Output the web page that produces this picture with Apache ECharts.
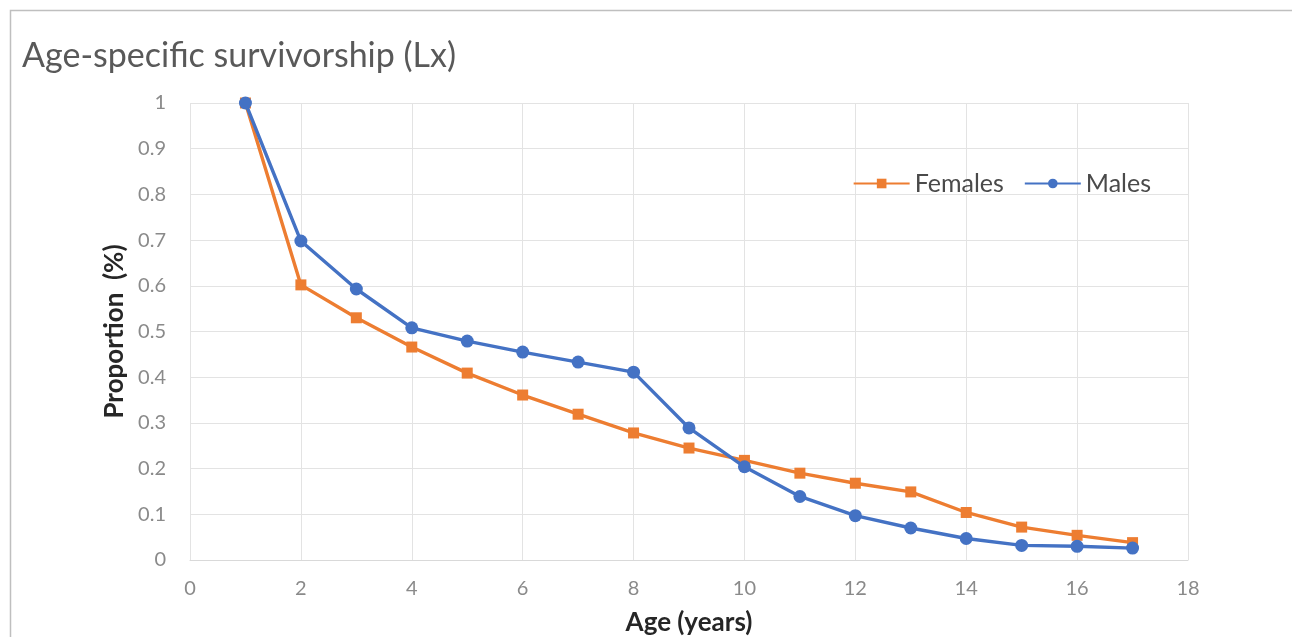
<!DOCTYPE html>
<html>
<head>
<meta charset="utf-8">
<script src="https://cdn.jsdelivr.net/npm/echarts@6/dist/echarts.min.js"></script>
<style>
html,body{margin:0;padding:0;background:#fff;}
#chart{width:1292px;height:637px;}
</style>
</head>
<body>
<div id="chart"></div>
<script>
const ages = [1,2,3,4,5,6,7,8,9,10,11,12,13,14,15,16,17];
const females = [1.0,0.602,0.53,0.466,0.409,0.361,0.319,0.278,0.245,0.218,0.19,0.168,0.149,0.104,0.072,0.054,0.038];
const males = [1.0,0.698,0.593,0.508,0.479,0.455,0.433,0.411,0.289,0.204,0.139,0.097,0.07,0.047,0.032,0.03,0.026];
const seriesNames = ['Females','Males'];

const chart = echarts.init(document.getElementById('chart'));
const font = 'Lato, "Open Sans", sans-serif';
chart.setOption({
  animation:false,
  backgroundColor:'#fff',
  title:{
    text:'Age-specific survivorship (Lx)',
    left:17, top:34,
    textStyle:{fontFamily:font,fontSize:34,fontWeight:'normal',color:'#595959'}
  },
  graphic:[{
    type:'rect', shape:{x:10.5,y:10.5,width:1300,height:700},
    style:{fill:'none',stroke:'#bfbfbf',lineWidth:1.5}, silent:true
  }],
  legend:{
    right:136, top:166,
    itemWidth:56, itemHeight:12, itemGap:20,
    textStyle:{fontFamily:font,fontSize:25,color:'#4a4a4a'},
    data:seriesNames
  },
  grid:{left:190,right:104,top:103,bottom:77,containLabel:false,outerBoundsMode:'none'},
  xAxis:{
    type:'value', min:0, max:18, interval:2,
    name:'Age (years)', nameLocation:'middle', nameGap:50, nameMoveOverlap:false,
    nameTextStyle:{fontFamily:font,fontSize:26,fontWeight:'bold',color:'#262626'},
    axisLine:{show:true,lineStyle:{color:'#d9d9d9'}},
    axisTick:{show:false},
    axisLabel:{fontFamily:font,fontSize:20,color:'#8a8a8a',margin:19},
    splitLine:{show:true,lineStyle:{color:'#e3e3e3'}}
  },
  yAxis:{
    type:'value', min:0, max:1, interval:0.1,
    name:'Proportion  (%)', nameLocation:'middle', nameGap:62, nameRotate:90, nameMoveOverlap:false,
    nameTextStyle:{fontFamily:font,fontSize:26,fontWeight:'bold',color:'#262626'},
    axisLine:{show:false}, axisTick:{show:false},
    axisLabel:{fontFamily:font,fontSize:20,color:'#8a8a8a',margin:24,
      formatter:v=>String(Math.round(v*10)/10)},
    splitLine:{show:true,lineStyle:{color:'#e3e3e3'}}
  },
  series:[
    {name:seriesNames[0],type:'line',data:ages.map((a,i)=>[a,females[i]]),
     symbol:'rect',symbolSize:11,
     lineStyle:{color:'#ED7D31',width:3.4},itemStyle:{color:'#ED7D31'},z:2},
    {name:seriesNames[1],type:'line',data:ages.map((a,i)=>[a,males[i]]),
     symbol:'circle',symbolSize:13,
     lineStyle:{color:'#4472C4',width:3.4},itemStyle:{color:'#4472C4'},z:3}
  ]
});
</script>
</body>
</html>
